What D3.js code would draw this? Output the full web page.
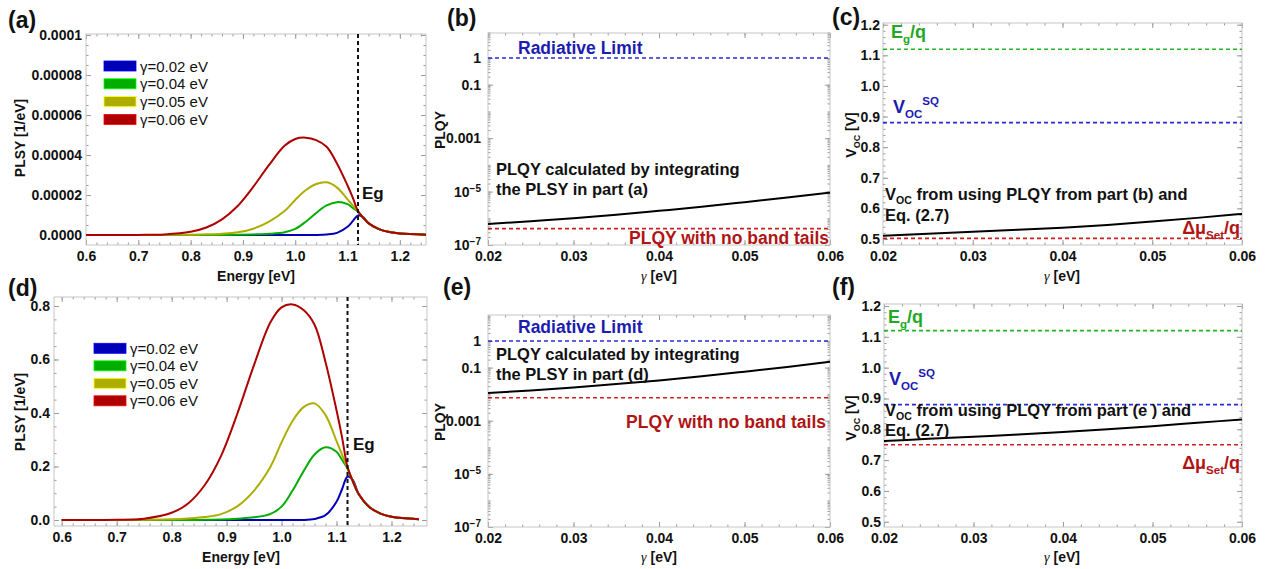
<!DOCTYPE html>
<html lang="en">
<head>
  <meta charset="utf-8">
  <title>band tails: PLSY, PLQY and Voc</title>
  <script type="text/javascript" src="https://cdnjs.cloudflare.com/ajax/libs/d3/7.8.5/d3.min.js"></script>
  <style>
    body { margin: 0px; background: #ffffff; }
    svg { display: block; font-family: "Liberation Sans", Arial, Helvetica, sans-serif; }
    .tick line { stroke: #9a9a9a; }
    .tick text { font-family: "Liberation Sans", Arial, Helvetica, sans-serif; font-size: 14px; font-weight: bold; fill: #111111; }
  </style>
</head>
<body>
  <script type="text/javascript">
    var width = 1271;
    var height = 569;

    //////////// DATA

    var energy = [0.60, 0.70, 0.75, 0.80, 0.83, 0.86, 0.89, 0.92, 0.95, 0.98, 1.00, 1.02,
                  1.04, 1.06, 1.08, 1.10, 1.11, 1.12, 1.13, 1.14, 1.16, 1.18, 1.20, 1.25];
    var gammaLabels = ["γ=0.02 eV", "γ=0.04 eV", "γ=0.05 eV", "γ=0.06 eV"];
    var curveColors = ["#0000b8", "#00ad00", "#adad00", "#ad0000"];
    var eg = 1.12;

    // part (a), PLSY [1/eV]
    var plsyA_g002 = [0, 0, 0, 0, 0, 0, 0, 0, 0, 0, 0, 0, 0, 0.024e-5, 0.109e-5, 0.41e-5,
                      0.695e-5, 0.978e-5, 0.894e-5, 0.592e-5, 0.29e-5, 0.145e-5, 0.072e-5, 0.018e-5];
    var plsyA_g004 = [0, 0, 0, 0, 0, 0.006e-5, 0.012e-5, 0.03e-5, 0.06e-5, 0.139e-5, 0.302e-5, 0.664e-5,
                      1.10e-5, 1.48e-5, 1.643e-5, 1.54e-5, 1.359e-5, 1.16e-5, 0.864e-5, 0.592e-5, 0.29e-5, 0.145e-5, 0.072e-5, 0.018e-5];
    var plsyA_g005 = [0, 0, 0.006e-5, 0.018e-5, 0.036e-5, 0.066e-5, 0.133e-5, 0.314e-5, 0.664e-5, 1.208e-5, 1.752e-5, 2.235e-5,
                      2.549e-5, 2.633e-5, 2.368e-5, 1.782e-5, 1.48e-5, 1.172e-5, 0.864e-5, 0.592e-5, 0.29e-5, 0.145e-5, 0.072e-5, 0.018e-5];
    var plsyA_g006 = [0, 0.006e-5, 0.03e-5, 0.163e-5, 0.374e-5, 0.785e-5, 1.45e-5, 2.416e-5, 3.503e-5, 4.47e-5, 4.802e-5, 4.868e-5,
                      4.741e-5, 4.409e-5, 3.564e-5, 2.476e-5, 1.872e-5, 1.196e-5, 0.864e-5, 0.592e-5, 0.29e-5, 0.145e-5, 0.072e-5, 0.018e-5];

    // part (d), PLSY [1/eV]
    var plsyD_g002 = [0, 0, 0, 0, 0, 0, 0, 0, 0, 0, 0, 0, 0, 0.004, 0.018, 0.068,
                      0.115, 0.162, 0.148, 0.098, 0.048, 0.024, 0.012, 0.003];
    var plsyD_g004 = [0, 0, 0, 0, 0, 0.001, 0.002, 0.005, 0.01, 0.023, 0.05, 0.11,
                      0.182, 0.245, 0.272, 0.255, 0.225, 0.192, 0.143, 0.098, 0.048, 0.024, 0.012, 0.003];
    var plsyD_g005 = [0, 0, 0.001, 0.003, 0.006, 0.011, 0.022, 0.052, 0.11, 0.20, 0.29, 0.37,
                      0.422, 0.436, 0.392, 0.295, 0.245, 0.194, 0.143, 0.098, 0.048, 0.024, 0.012, 0.003];
    var plsyD_g006 = [0, 0.001, 0.005, 0.027, 0.062, 0.13, 0.24, 0.40, 0.58, 0.74, 0.795, 0.806,
                      0.785, 0.73, 0.59, 0.41, 0.31, 0.198, 0.143, 0.098, 0.048, 0.024, 0.012, 0.003];

    // parts (b), (c), (e), (f) against gamma
    var gamma = [0.02, 0.025, 0.03, 0.035, 0.04, 0.045, 0.05, 0.055, 0.06];
    var plqyB = [6.1e-7, 7.8e-7, 1.0e-6, 1.35e-6, 1.9e-6, 2.7e-6, 4.0e-6, 6.0e-6, 9.1e-6];
    var plqyE = [0.011, 0.0138, 0.0178, 0.024, 0.033, 0.047, 0.07, 0.106, 0.165];
    var vocC = [0.511, 0.517, 0.524, 0.530, 0.537, 0.546, 0.557, 0.569, 0.582];
    var vocF = [0.762, 0.769, 0.776, 0.783, 0.791, 0.800, 0.810, 0.821, 0.832];
    var radiativeLimit = 1;
    var plqyB_noTails = 4.1e-7;
    var plqyE_noTails = 0.0073;
    var vocSQ = 0.88;
    var vocC_noTails = 0.502;
    var vocF_noTails = 0.75;

    // ticks
    var energyTicks = [0.6, 0.7, 0.8, 0.9, 1.0, 1.1, 1.2];
    var plsyATicks = [0, 0.00002, 0.00004, 0.00006, 0.00008, 0.0001];
    var plsyATickLabels = ["0.0000", "0.00002", "0.00004", "0.00006", "0.00008", "0.0001"];
    var plsyDTicks = [0, 0.2, 0.4, 0.6, 0.8];
    var gammaTicks = [0.02, 0.03, 0.04, 0.05, 0.06];
    var plqyTicks = [1, 0.1, 0.001, 1e-5, 1e-7];
    var vocTicks = [0.5, 0.6, 0.7, 0.8, 0.9, 1.0, 1.1, 1.2];

    //////////// HELPERS

    var svg = d3.select("body").append("svg")
      .attr("width", width)
      .attr("height", height);

    function range(a, b, step) {
      return d3.range(Math.round((b - a) / step) + 1).map(function (i) { return +(a + i * step).toFixed(10); });
    }

    function logMinor(lo, hi) {
      var out = [];
      for (var e = lo; e < hi; e++) {
        for (var m = 1; m < 10; m++) out.push(m * Math.pow(10, e));
      }
      return out;
    }

    // frame with inward ticks on all four sides, labels on bottom and left
    function frame(box, x, y, o) {
      var g = svg.append("g");
      var w = box.r - box.l, h = box.b - box.t;

      function put(axis, tx, ty) {
        var a = g.append("g").attr("transform", "translate(" + tx + "," + ty + ")").call(axis);
        a.select(".domain").remove();
        return a;
      }
      var none = function () { return ""; };

      // minor ticks
      put(d3.axisBottom(x).tickValues(o.xMinor).tickSize(-2.5).tickFormat(none), 0, box.b);
      put(d3.axisTop(x).tickValues(o.xMinor).tickSize(-2.5).tickFormat(none), 0, box.t);
      put(d3.axisLeft(y).tickValues(o.yMinor).tickSize(-2.5).tickFormat(none), box.l, 0);
      put(d3.axisRight(y).tickValues(o.yMinor).tickSize(-2.5).tickFormat(none), box.r, 0);

      // major ticks
      put(d3.axisBottom(x).tickValues(o.xTicks).tickSize(-5).tickPadding(6).tickFormat(o.xFormat), 0, box.b);
      put(d3.axisTop(x).tickValues(o.xTicks).tickSize(-5).tickFormat(none), 0, box.t);
      var left = put(d3.axisLeft(y).tickValues(o.yTicks).tickSize(-5).tickPadding(o.yPad).tickFormat(o.yFormat), box.l, 0);
      put(d3.axisRight(y).tickValues(o.yTicks).tickSize(-5).tickFormat(none), box.r, 0);

      g.append("rect")
        .attr("x", box.l).attr("y", box.t)
        .attr("width", w).attr("height", h)
        .attr("fill", "none")
        .attr("stroke", "#c6c6c6")
        .attr("stroke-width", 1);

      return { g: g, left: left };
    }

    // text with sub/superscripts; parts are strings or [text, "sub"|"sup", style]
    function rich(x, y, parts, o) {
      var t = svg.append("text")
        .attr("x", x).attr("y", y)
        .attr("text-anchor", o.anchor || "start")
        .attr("font-size", o.size)
        .attr("font-weight", o.weight || "bold")
        .attr("fill", o.color || "#111111");
      if (o.rotate) t.attr("transform", "rotate(-90," + x + "," + y + ")");
      var shift = 0;
      parts.forEach(function (p) {
        var s = typeof p === "string" ? [p, null] : p;
        var target = s[1] === "sub" ? o.size * (o.subDrop || 0.3) : (s[1] === "sup" ? -o.size * 0.42 : 0);
        var ts = t.append("tspan")
          .attr("dy", target - shift)
          .attr("font-size", s[1] ? o.size * 0.64 : o.size)
          .text(s[0]);
        if (s[2]) ts.attr("font-family", s[2].family).attr("font-style", s[2].style).attr("font-weight", s[2].weight);
        shift = target;
      });
      return t;
    }

    function gammaTitle(cx, y) {
      rich(cx, y, [["γ", null, { family: "Liberation Serif", style: "italic", weight: "normal" }], " [eV]"],
        { size: 14, anchor: "middle" });
    }

    function hline(g, box, yPos, color) {
      g.append("line")
        .attr("x1", box.l).attr("x2", box.r)
        .attr("y1", yPos).attr("y2", yPos)
        .attr("stroke", color)
        .attr("stroke-width", 1.6)
        .attr("stroke-dasharray", "4,3");
    }

    function logLabels(axisG) {
      axisG.selectAll(".tick text").each(function (d) {
        if (d >= 0.001) return;
        var t = d3.select(this).text("");
        t.append("tspan").text("10");
        t.append("tspan").attr("dy", "-0.45em").attr("font-size", "10px").text("\u2212" + Math.round(-Math.log10(d)));
      });
    }

    //////////// PLSY PANELS (a) and (d)

    function plsyPanel(box, xDom, yDom, series, yTicks, yFormat, yMinorStep, legendBox, egLabel) {
      var x = d3.scaleLinear().domain(xDom).range([box.l, box.r]);
      var y = d3.scaleLinear().domain(yDom).range([box.b, box.t]);
      var f = frame(box, x, y, {
        xTicks: energyTicks, xMinor: range(0.6, 1.24, 0.02), xFormat: d3.format(".1f"),
        yTicks: yTicks, yMinor: range(0, yTicks[yTicks.length - 1], yMinorStep), yFormat: yFormat, yPad: 4
      });

      var line = d3.line()
        .x(function (d, i) { return x(energy[i]); })
        .y(function (d) { return y(Math.max(0, d)); })
        .curve(d3.curveCatmullRom.alpha(0.5));

      f.g.selectAll("path.curve").data(series).enter().append("path")
        .attr("class", "curve")
        .attr("d", function (d) { return line(d); })
        .attr("fill", "none")
        .attr("stroke", function (d, i) { return curveColors[i]; })
        .attr("stroke-width", 2);

      f.g.append("line")
        .attr("x1", x(eg)).attr("x2", x(eg))
        .attr("y1", box.t).attr("y2", box.b)
        .attr("stroke", "#111")
        .attr("stroke-width", 2)
        .attr("stroke-dasharray", "4,3");

      svg.append("text").attr("x", egLabel[0]).attr("y", egLabel[1])
        .attr("font-size", 17).attr("font-weight", "bold").attr("fill", "#111").text("Eg");

      // legend
      var lg = svg.append("g");
      gammaLabels.forEach(function (lab, i) {
        var cy = legendBox.y + i * legendBox.step;
        lg.append("rect")
          .attr("x", legendBox.x).attr("y", cy - 5)
          .attr("width", 32).attr("height", 10)
          .attr("fill", curveColors[i])
          .attr("stroke", d3.color(curveColors[i]).brighter(1.2))
          .attr("stroke-width", 0.8);
        lg.append("text")
          .attr("x", legendBox.x + 36).attr("y", cy + 5.5)
          .attr("font-size", 15).attr("fill", "#111").text(lab);
      });
    }

    var boxA = { l: 86, r: 426, t: 34, b: 245 };
    plsyPanel(boxA, [0.6, 1.25], [-0.5e-5, 1.005e-4],
      [plsyA_g002, plsyA_g004, plsyA_g005, plsyA_g006],
      plsyATicks, function (d, i) { return plsyATickLabels[i]; }, 0.000005,
      { x: 104, y: 66, step: 17.8 }, [362, 199]);

    var boxD = { l: 54, r: 427, t: 297, b: 526 };
    plsyPanel(boxD, [0.586, 1.2646], [-0.0224, 0.8336],
      [plsyD_g002, plsyD_g004, plsyD_g005, plsyD_g006],
      plsyDTicks, d3.format(".1f"), 0.05,
      { x: 94, y: 348.3, step: 17.5 }, [353, 450]);

    rich(256, 281, ["Energy [eV]"], { size: 14, anchor: "middle" });
    rich(241, 562, ["Energy [eV]"], { size: 14, anchor: "middle" });
    rich(25, 138, ["PLSY [1/eV]"], { size: 14, anchor: "middle", rotate: true });
    rich(25, 412, ["PLSY [1/eV]"], { size: 14, anchor: "middle", rotate: true });

    //////////// PLQY PANELS (b) and (e)

    function plqyPanel(box, topExp, series, noTails, yPad) {
      var x = d3.scaleLinear().domain([0.02, 0.06]).range([box.l, box.r]);
      var y = d3.scaleLog().domain([1e-7, Math.pow(10, topExp)]).range([box.b, box.t]);
      var f = frame(box, x, y, {
        xTicks: gammaTicks, xMinor: range(0.02, 0.06, 0.002), xFormat: d3.format(".2f"),
        yTicks: plqyTicks, yMinor: logMinor(-7, 1), yFormat: function (d) { return d >= 0.001 ? String(d) : ""; }, yPad: yPad
      });
      logLabels(f.left);

      hline(f.g, box, y(radiativeLimit), "#2a2ad8");
      hline(f.g, box, y(noTails), "#cc2020");

      var line = d3.line()
        .x(function (d, i) { return x(gamma[i]); })
        .y(function (d) { return y(d); })
        .curve(d3.curveMonotoneX);
      f.g.append("path").datum(series)
        .attr("d", line)
        .attr("fill", "none")
        .attr("stroke", "#000")
        .attr("stroke-width", 2);
    }

    var boxB = { l: 488, r: 830, t: 33, b: 245 };
    plqyPanel(boxB, 0.936, plqyB, plqyB_noTails, 7);
    var boxE = { l: 488, r: 830, t: 315, b: 527 };
    plqyPanel(boxE, 0.98, plqyE, plqyE_noTails, 7);

    rich(518, 54, ["Radiative Limit"], { size: 17.5, color: "#1c1cb0" });
    rich(518, 333, ["Radiative Limit"], { size: 17.5, color: "#1c1cb0" });
    rich(829, 244, ["PLQY with no band tails"], { size: 17.5, color: "#b01414", anchor: "end" });
    rich(826, 428, ["PLQY with no band tails"], { size: 17.5, color: "#b01414", anchor: "end" });
    rich(496, 175, ["PLQY calculated by integrating"], { size: 16.5 });
    rich(496, 195, ["the PLSY in part (a)"], { size: 16.5 });
    rich(496, 360, ["PLQY calculated by integrating"], { size: 16.5 });
    rich(496, 380, ["the PLSY in part (d)"], { size: 16.5 });

    gammaTitle(659, 281);
    gammaTitle(659, 562);
    rich(445, 130, ["PLQY"], { size: 14, anchor: "middle", rotate: true });
    rich(445, 422, ["PLQY"], { size: 14, anchor: "middle", rotate: true });

    //////////// VOC PANELS (c) and (f)

    function vocPanel(box, yDom, series, noTails) {
      var x = d3.scaleLinear().domain([0.02, 0.06]).range([box.l, box.r]);
      var y = d3.scaleLinear().domain(yDom).range([box.b, box.t]);
      var f = frame(box, x, y, {
        xTicks: gammaTicks, xMinor: range(0.02, 0.06, 0.002), xFormat: d3.format(".2f"),
        yTicks: vocTicks, yMinor: range(0.5, 1.2, 0.02), yFormat: d3.format(".1f"), yPad: 3
      });

      hline(f.g, box, y(eg), "#22b822");
      hline(f.g, box, y(vocSQ), "#2a2ad8");
      hline(f.g, box, y(noTails), "#cc2020");

      var line = d3.line()
        .x(function (d, i) { return x(gamma[i]); })
        .y(function (d) { return y(d); })
        .curve(d3.curveMonotoneX);
      f.g.append("path").datum(series)
        .attr("d", line)
        .attr("fill", "none")
        .attr("stroke", "#000")
        .attr("stroke-width", 2);
    }

    var boxC = { l: 883, r: 1242, t: 23, b: 245 };
    vocPanel(boxC, [0.4804, 1.2056], vocC, vocC_noTails);
    var boxF = { l: 884, r: 1242, t: 304, b: 527 };
    vocPanel(boxF, [0.483, 1.2065], vocF, vocF_noTails);

    var green = "#22a822", blue = "#1c1cb0", red = "#b01414";
    rich(891, 38, ["E", ["g", "sub"], "/q"], { size: 18, color: green });
    rich(888, 323, ["E", ["g", "sub"], "/q"], { size: 18, color: green });
    rich(893, 113, ["V", ["OC", "sub"], ["SQ", "sup"]], { size: 18, color: blue });
    rich(889, 385, ["V", ["OC", "sub"], ["SQ", "sup"]], { size: 18, color: blue });
    rich(1240, 234, ["Δμ", ["Set", "sub"], "/q"], { size: 18, color: red, anchor: "end" });
    rich(1240, 469, ["Δμ", ["Set", "sub"], "/q"], { size: 18, color: red, anchor: "end" });

    rich(885, 200, ["V", ["OC", "sub"], " from using PLQY from part (b) and"], { size: 16.5, subDrop: 0.25 });
    rich(885, 221, ["Eq. (2.7)"], { size: 16.5 });
    rich(885, 416, ["V", ["OC", "sub"], " from using PLQY from part (e ) and"], { size: 16.5, subDrop: 0.25 });
    rich(885, 436, ["Eq. (2.7)"], { size: 16.5 });

    gammaTitle(1062, 281);
    gammaTitle(1062, 562);
    rich(856, 135, ["V", ["OC", "sub"], " [V]"], { size: 14, anchor: "middle", rotate: true });
    rich(856, 418, ["V", ["OC", "sub"], " [V]"], { size: 14, anchor: "middle", rotate: true });

    //////////// PANEL LETTERS

    [["(a)", 8, 28], ["(b)", 447, 26], ["(c)", 832, 25], ["(d)", 8, 296], ["(e)", 443, 295], ["(f)", 832, 295]]
      .forEach(function (p) {
        svg.append("text").attr("x", p[1]).attr("y", p[2])
          .attr("font-size", 23).attr("font-weight", "bold").attr("fill", "#111").text(p[0]);
      });
  </script>
</body>
</html>
